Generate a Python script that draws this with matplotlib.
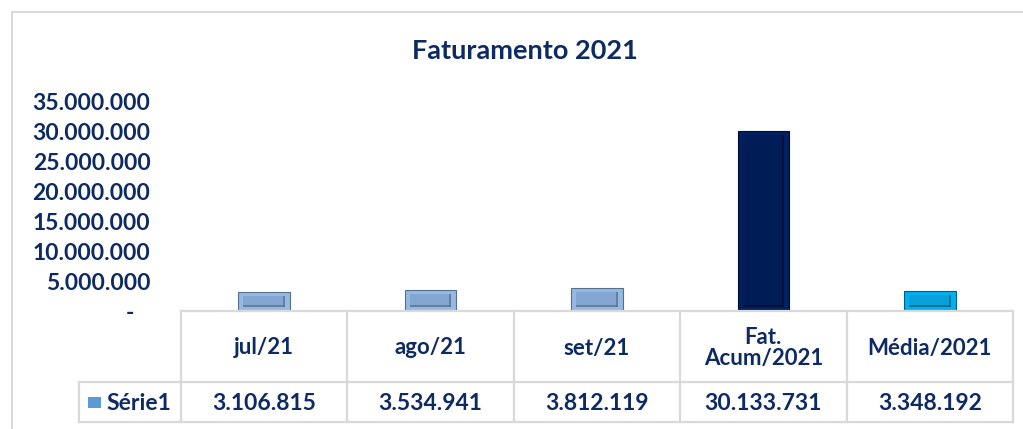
import matplotlib.pyplot as plt
from matplotlib.lines import Line2D
from matplotlib.patches import Rectangle
from matplotlib.ticker import FuncFormatter

# data
categorias = ["jul/21", "ago/21", "set/21", "Fat.\nAcum/2021", "Média/2021"]
valores = [3106815, 3534941, 3812119, 30133731, 3348192]
serie = "Série1"
titulo = "Faturamento 2021"

cores = ["#95B9E2", "#95B9E2", "#95B9E2", "#002060", "#00B0F0"]
cores_in = ["#83A7D0", "#83A7D0", "#83A7D0", "#001C56", "#0AA0DA"]
cores_borda = ["#566F8C", "#566F8C", "#566F8C", "#000C30", "#005F85"]

navy = "#0E2A62"
cinza = "#D9D9D9"
plt.rcParams["font.family"] = ["Lato", "DejaVu Sans"]

W, H = 1023, 429
fig = plt.figure(figsize=(W / 100, H / 100), dpi=100)

def fx(px):
    return px / W

def fy(py):
    return 1 - py / H

# moldura externa do grafico
fig.add_artist(Line2D([fx(12), fx(12)], [fy(12), 0], color=cinza, lw=1.5))
fig.add_artist(Line2D([fx(12), 1], [fy(12), fy(12)], color=cinza, lw=1.5))

fig.text(fx(525), fy(51), titulo, ha="center", va="center",
         fontsize=19.5, fontweight="bold", color=navy)

x0, x1 = 181, 1013
ax = fig.add_axes([fx(x0), fy(311), fx(x1 - x0), fy(102) - fy(311)])
ax.set_xlim(-0.5, len(categorias) - 0.5)
ax.set_ylim(0, 35000000)
ax.set_yticks(range(0, 35000001, 5000000))
ax.yaxis.set_major_formatter(FuncFormatter(
    lambda v, p: "-   " if v == 0 else f"{int(v):,}".replace(",", ".")))
ax.tick_params(axis="y", length=0, pad=22, labelsize=16.5, labelcolor=navy)
for lab in ax.get_yticklabels():
    lab.set_fontweight("bold")
ax.set_xticks([])
for s in ax.spines.values():
    s.set_visible(False)

larg = 0.31
px_x = (len(categorias)) / (x1 - x0)     # unidades de x por pixel
px_y = 35000000 / (311 - 102)             # unidades de y por pixel
ax.bar(range(len(valores)), valores, width=larg, color=cores,
       edgecolor=cores_borda, linewidth=0.8, zorder=2)
# efeito de chanfro
ins_x, ins_y = 5 * px_x, 4 * px_y
for i, v in enumerate(valores):
    ax.add_patch(Rectangle((i - larg / 2 + ins_x, ins_y),
                           larg - 2 * ins_x, v - 2 * ins_y,
                           facecolor=cores_in[i], edgecolor="none", zorder=3))
    ax.add_patch(Rectangle((i - larg / 2 + ins_x, ins_y),
                           larg - 2 * ins_x, 2 * px_y,
                           facecolor=cores_borda[i], edgecolor="none", alpha=0.7, zorder=4))
    ax.add_patch(Rectangle((i + larg / 2 - ins_x - 2 * px_x, ins_y),
                           2 * px_x, v - 2 * ins_y,
                           facecolor=cores_borda[i], edgecolor="none", alpha=0.7, zorder=4))

# tabela de dados
tb = fig.add_axes([fx(x0), fy(422), fx(x1 - x0), fy(311) - fy(422)])
tb.set_xlim(-0.5, len(categorias) - 0.5)
tb.set_ylim(111, 0)
tb.axis("off")
xl = -0.5 - (x0 - 79) * px_x
kw = dict(color=cinza, lw=1.6, clip_on=False)
tb.plot([-0.5, len(categorias) - 0.5], [0, 0], **kw)
tb.plot([xl, len(categorias) - 0.5], [71, 71], **kw)
tb.plot([xl, len(categorias) - 0.5], [111, 111], **kw)
tb.plot([xl, xl], [71, 111], **kw)
for i in range(len(categorias) + 1):
    tb.plot([i - 0.5, i - 0.5], [0, 111], **kw)

for i, (c, v) in enumerate(zip(categorias, valores)):
    tb.text(i, 37, c, ha="center", va="center", fontsize=16,
            fontweight="bold", color=navy, linespacing=1.05)
    tb.text(i, 92, f"{v:,}".replace(",", "."), ha="center", va="center",
            fontsize=16.5, fontweight="bold", color=navy)

tb.add_patch(Rectangle((-0.5 - (x0 - 88) * px_x, 86), 13 * px_x, 11,
                       facecolor="#5B9BD5", edgecolor="none", clip_on=False))
tb.text(-0.5 - (x0 - 106) * px_x, 92, serie, ha="left", va="center",
        fontsize=16.5, fontweight="bold", color=navy)

fig.savefig("out.png", dpi=100)
